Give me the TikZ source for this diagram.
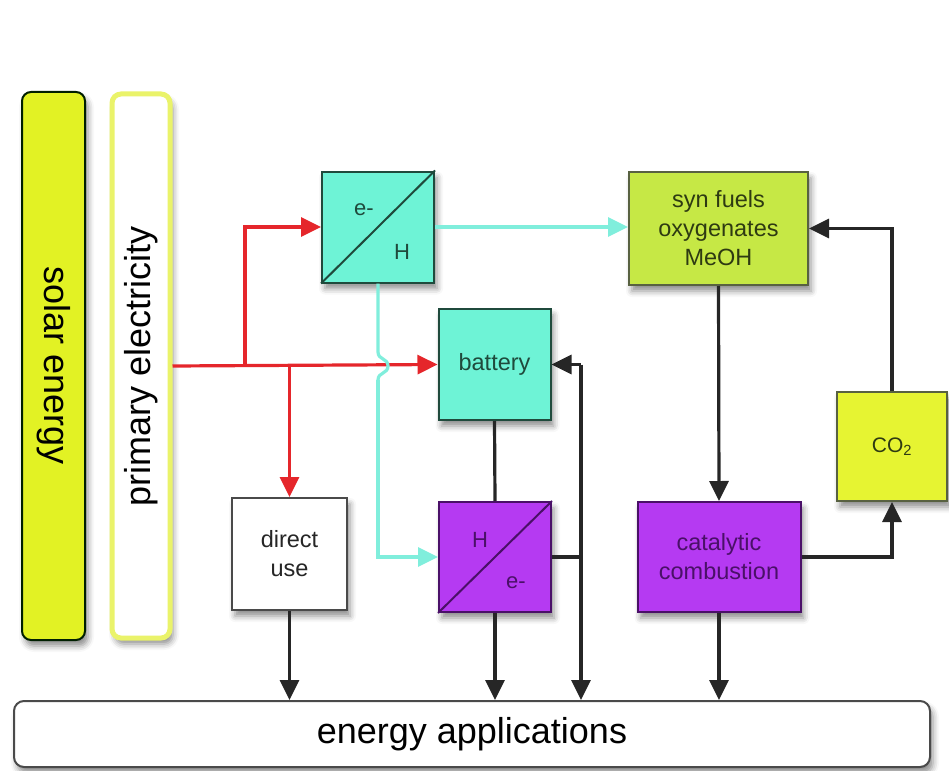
\documentclass[tikz,border=0pt]{standalone}
\usepackage{fontspec}
\setmainfont{Liberation Sans}
\usetikzlibrary{arrows.meta,shadows.blur,calc}
\definecolor{solarY}{HTML}{E2F224}
\definecolor{primY}{HTML}{EAF36A}
\definecolor{tealF}{HTML}{6EF3D6}
\definecolor{tealD}{HTML}{1F4A3C}
\definecolor{purpF}{HTML}{B53AF2}
\definecolor{purpD}{HTML}{4A1068}
\definecolor{synF}{HTML}{C6E845}
\definecolor{synD}{HTML}{2E3A12}
\definecolor{coF}{HTML}{E6F432}
\definecolor{redL}{HTML}{E5262B}
\definecolor{tealL}{HTML}{80EEDC}
\definecolor{grayB}{HTML}{4A4A4A}
\tikzset{
  shad/.style={blur shadow={shadow xshift=3pt,shadow yshift=-6pt,shadow blur radius=6pt,shadow opacity=45}},
  boxbase/.style={rectangle,inner sep=0pt,line width=2pt,align=center,shad,font=\fontsize{23.5}{29}\selectfont},
  tealbox/.style={boxbase,draw=tealD,fill=tealF,text=tealD},
  purpbox/.style={boxbase,draw=purpD,fill=purpF,text=purpD},
  lbl/.style={inner sep=0pt,font=\fontsize{22}{25}\selectfont},
  tipb/.style={-{Triangle[length=20pt,width=19pt]}},
  redline/.style={draw=redL,line width=3.2pt,tipb},
  tealline/.style={draw=tealL,line width=3.2pt},
  blk/.style={draw=black!85,line width=3.2pt},
}
\begin{document}
\begin{tikzpicture}[x=1pt,y=-1pt]
\useasboundingbox (0,0) rectangle (949,770);
% left bars
\node[rectangle,rounded corners=9pt,draw=black!70!green!40!black,line width=2pt,fill=solarY,shad,
  minimum width=63pt,minimum height=548pt,inner sep=0pt] (solar) at (53.5,366) {};
\node[rotate=-90,font=\fontsize{36}{40}\selectfont] (solart) at (solar.center) {solar energy};
\node[rectangle,rounded corners=9pt,draw=primY,line width=5pt,fill=white,shad,
  minimum width=58pt,minimum height=544pt,inner sep=0pt] (prim) at (141,366) {};
\node[rotate=90,font=\fontsize{36}{40}\selectfont] (primt) at (prim.center) {primary electricity};
% boxes
\node[tealbox,minimum width=112pt,minimum height=111pt] (eh1) at (378,227) {};
\draw[tealD,line width=2pt] (eh1.south west) -- (eh1.north east);
\node[lbl,text=tealD] (eh1e) at (364,210) {e-};
\node[lbl,text=tealD] (eh1h) at (402,252) {H};
\node[tealbox,minimum width=112pt,minimum height=111pt] (bat) at (494.5,364.5) {battery};
\node[purpbox,minimum width=112pt,minimum height=110pt] (he) at (495,557) {};
\draw[purpD,line width=2pt] (he.south west) -- (he.north east);
\node[lbl,text=purpD] (heh) at (480,540) {H};
\node[lbl,text=purpD] (hee) at (516,583) {e-};
\node[boxbase,draw=grayB,fill=white,text=black!85,minimum width=115pt,minimum height=112pt] (direct) at (289.5,554) {direct\\use};
\node[boxbase,draw=synD!80,fill=synF,text=synD,minimum width=179pt,minimum height=113pt] (syn) at (718.5,228.5) {syn fuels\\oxygenates\\MeOH};
\node[purpbox,minimum width=163pt,minimum height=110pt] (cat) at (719,557) {catalytic\\combustion};
\node[boxbase,draw=synD!80,fill=coF,text=synD,minimum width=110pt,minimum height=109pt,font=\fontsize{21}{24}\selectfont] (co2) at (892,446.5) {CO\textsubscript{2}};
\node[rectangle,rounded corners=10pt,draw=grayB,line width=2pt,fill=white,shad,inner sep=0pt,
  minimum width=916pt,minimum height=66pt,font=\fontsize{36}{40}\selectfont] (apps) at (472,734) {energy applications};
% red connectors
\coordinate (j1) at (245,366);
\coordinate (j2) at (289.5,366);
\draw[redline] (prim.east) -- (bat.west);
\draw[redline] (j1) |- (eh1.west);
\draw[redline] (j2) -- (direct.north);
% teal connectors
\coordinate (hopA) at (378,352);
\coordinate (hopB) at (378,380);
\draw[tealline] (eh1.south) -- (hopA) .. controls (378,360) and (388,358) .. (388,366) .. controls (388,374) and (378,372) .. (hopB);
\draw[tealline,-{Triangle[length=20pt,width=19pt]}] (hopB) |- (he.west);
\draw[tealline,-{Triangle[length=20pt,width=19pt]}] (eh1.east) -- (eh1.east -| syn.west);
% black connectors
\coordinate (jt) at (581,364.5);
\coordinate (jb) at (581,700);
\draw[blk] (bat.south) -- (he.north);
\draw[blk,tipb] (jt) -- (bat.east);
\draw[blk,tipb] (jt) -- (jb);
\draw[blk] (he.east) -- (he.east -| jt);
\draw[blk,tipb] (he.south) -- (he.south |- apps.north);
\draw[blk,tipb] (direct.south) -- (direct.south |- apps.north);
\draw[blk,tipb] (cat.south) -- (cat.south |- apps.north);
\draw[blk,tipb] (syn.south) -- (cat.north);
\draw[blk,tipb] (cat.east) -| (co2.south);
\draw[blk,tipb] (co2.north) |- (syn.east);
\end{tikzpicture}
\end{document}
